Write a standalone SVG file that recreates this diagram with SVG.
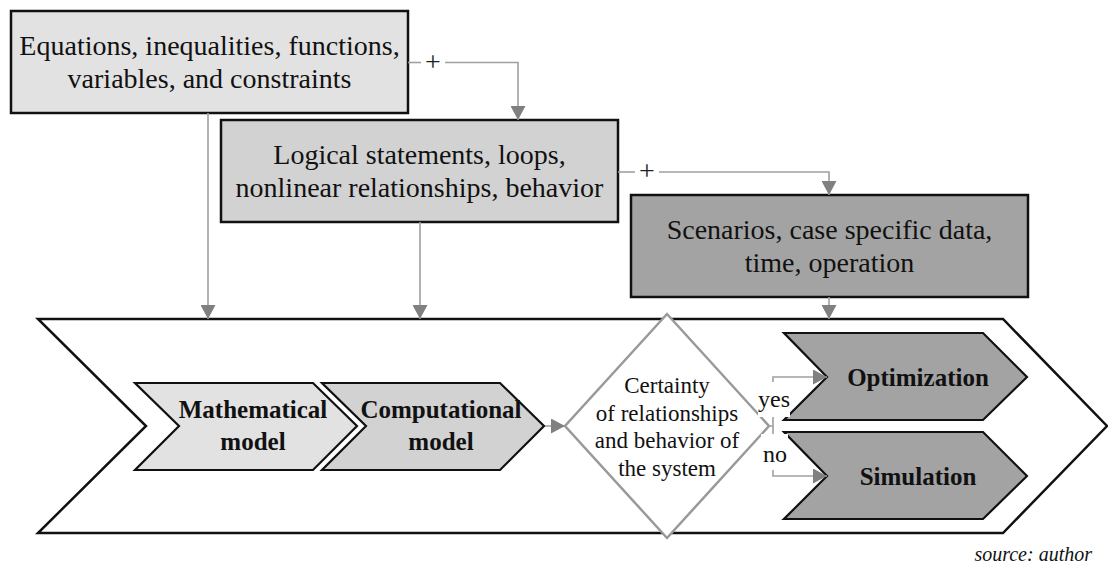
<svg xmlns="http://www.w3.org/2000/svg" width="1108" height="567" viewBox="0 0 1108 567">
  <style>
    .box { stroke: #111; stroke-width: 2.5; }
    .chev { stroke: #111; stroke-width: 2.2; stroke-linejoin: miter; }
    .t { font-family: "Liberation Serif", "Times New Roman", serif; fill: #111; text-anchor: middle; }
    .boxtext { font-size: 28px; }
    .bold { font-size: 25px; font-weight: bold; }
    .dtext { font-size: 23px; }
    .lbl { font-size: 24px; }
    .plus { font-size: 28px; fill: #222; }
    .src { font-size: 20px; font-style: italic; text-anchor: end; }
    .conn { fill: none; stroke: #a0a0a0; stroke-width: 1.6; }
  </style>
  <defs>
    <marker id="arrow" viewBox="0 0 14 15" refX="14" refY="7.5" markerWidth="14" markerHeight="15" markerUnits="userSpaceOnUse" orient="auto">
      <path d="M0,0 L14,7.5 L0,15 Z" fill="#808080"/>
    </marker>
  </defs>

  <rect width="1108" height="567" fill="#fff"/>

  <!-- outer process frame -->
  <g id="frame">
    <path d="M38,319 H1003 L1107,426 L1003,533 H38 L146,426 Z" fill="#fff" stroke="#111" stroke-width="2.5"/>
  </g>

  <!-- input boxes -->
  <g id="equations">
    <rect class="box" x="11" y="11" width="397" height="102" fill="#e2e2e2"/>
    <text class="t boxtext" x="209.5" y="55">Equations, inequalities, functions,</text>
    <text class="t boxtext" x="209.5" y="88">variables, and constraints</text>
  </g>
  <g id="logical">
    <rect class="box" x="221" y="120" width="397" height="102" fill="#d2d2d2"/>
    <text class="t boxtext" x="419.5" y="164">Logical statements, loops,</text>
    <text class="t boxtext" x="419.5" y="197">nonlinear relationships, behavior</text>
  </g>
  <g id="scenarios">
    <rect class="box" x="631" y="195" width="397" height="102" fill="#a3a3a3"/>
    <text class="t boxtext" x="829.5" y="239">Scenarios, case specific data,</text>
    <text class="t boxtext" x="829.5" y="272">time, operation</text>
  </g>

  <!-- process steps -->
  <g id="mathematical">
    <path class="chev" d="M135,383 H313 L357,426 L313,470 H135 L179,426 Z" fill="#e2e2e2"/>
    <text class="t bold" x="253" y="418">Mathematical</text>
    <text class="t bold" x="253" y="450">model</text>
  </g>
  <g id="computational">
    <path class="chev" d="M322,383 H500 L544,426 L500,470 H322 L366,426 Z" fill="#d2d2d2"/>
    <text class="t bold" x="441" y="418">Computational</text>
    <text class="t bold" x="441" y="450">model</text>
  </g>
  <g id="certainty">
    <path d="M667,314 L769,426 L667,538 L565,426 Z" fill="#fff" stroke="#999" stroke-width="2.5"/>
    <text class="t dtext" x="667" y="393">Certainty</text>
    <text class="t dtext" x="667" y="421">of relationships</text>
    <text class="t dtext" x="667" y="448">and behavior of</text>
    <text class="t dtext" x="667" y="476">the system</text>
  </g>
  <g id="optimization">
    <path class="chev" d="M784,333 H983 L1027,377 L983,420 H784 L827,377 Z" fill="#a3a3a3"/>
    <text class="t bold" x="918" y="386">Optimization</text>
  </g>
  <g id="simulation">
    <path class="chev" d="M784,432 H983 L1027,476 L983,519 H784 L827,476 Z" fill="#a3a3a3"/>
    <text class="t bold" x="918" y="485">Simulation</text>
  </g>

  <!-- connectors -->
  <g id="connectors">
    <path class="conn" d="M408,62.5 H421"/>
    <path class="conn" d="M445,62.5 H518 V120" marker-end="url(#arrow)"/>
    <text class="t plus" x="433" y="71">+</text>

    <path class="conn" d="M618,172 H635"/>
    <path class="conn" d="M659,172 H829 V195" marker-end="url(#arrow)"/>
    <text class="t plus" x="647" y="180">+</text>

    <path class="conn" d="M208,113 V319" marker-end="url(#arrow)"/>
    <path class="conn" d="M420,222 V319" marker-end="url(#arrow)"/>
    <path class="conn" d="M829,297 V319" marker-end="url(#arrow)"/>

    <path class="conn" d="M545,426 H565" marker-end="url(#arrow)"/>

    <path class="conn" d="M769,426 H773 V377 H827" marker-end="url(#arrow)"/>
    <path class="conn" d="M773,426 V476 H827" marker-end="url(#arrow)"/>
    <rect x="758" y="382" width="32" height="35" fill="#fff"/>
    <text class="t lbl" x="774" y="407">yes</text>
    <rect x="761" y="434" width="27" height="36" fill="#fff"/>
    <text class="t lbl" x="775" y="462">no</text>
  </g>

  <text class="t src" x="1092" y="561">source: author</text>
</svg>
